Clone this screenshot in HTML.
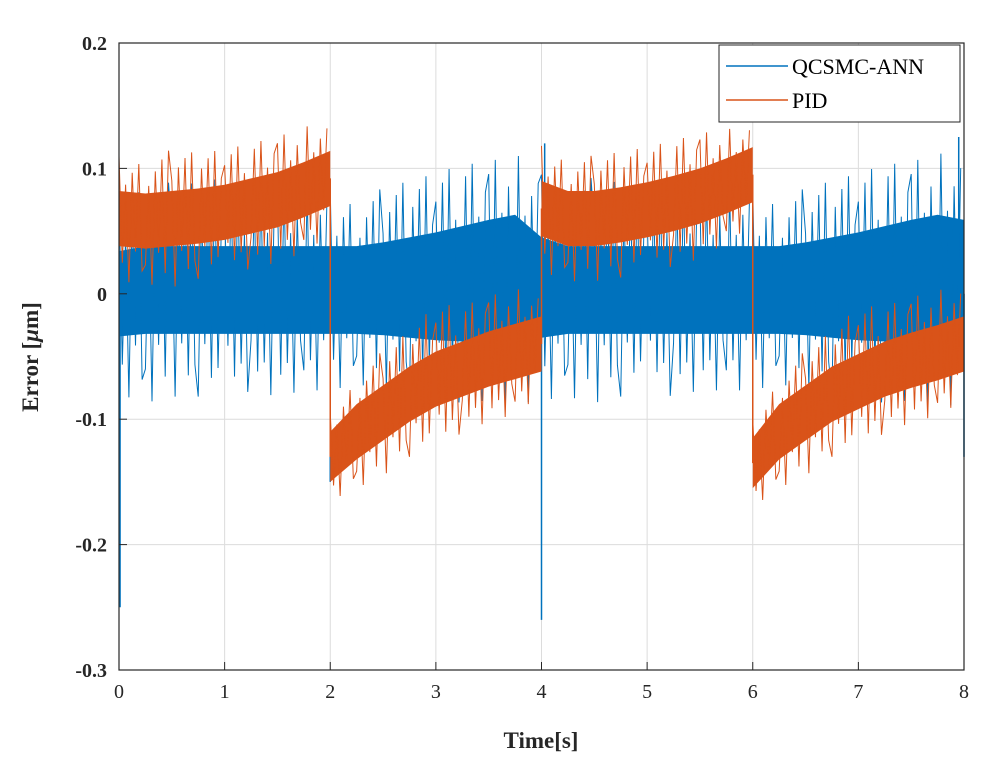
<!DOCTYPE html>
<html><head><meta charset="utf-8"><style>
body{margin:0;background:#fff;}
svg{display:block;font-family:"Liberation Serif",serif;}
</style></head><body>
<svg id="chart" width="1007" height="772">
<rect width="1007" height="772" fill="#fff"/>
<g id="grid"></g>
<g id="series"></g>
<rect x="119" y="43" width="845" height="627" fill="none" stroke="#262626" stroke-width="1.2"/>
<g id="ticks"></g>
<text x="38" y="357" transform="rotate(-90 38 357)" text-anchor="middle" font-size="23" font-weight="bold" fill="#262626">Error [<tspan font-style="italic">μ</tspan>m]</text>
<text x="541" y="748" text-anchor="middle" font-size="23" font-weight="bold" fill="#262626">Time[s]</text>
<g>
<rect x="719" y="45" width="241" height="77" fill="#fff" stroke="#262626" stroke-width="1"/>
<line x1="726" y1="66" x2="788" y2="66" stroke="#0072BD" stroke-width="1.5"/>
<text x="792" y="74" font-size="22" fill="#000">QCSMC-ANN</text>
<line x1="726" y1="100" x2="788" y2="100" stroke="#D95319" stroke-width="1.5"/>
<text x="792" y="108" font-size="22" fill="#000">PID</text>
</g>
</svg>
<script>
const xTicks=[0,1,2,3,4,5,6,7,8];
const yTicks=[-0.3,-0.2,-0.1,0,0.1,0.2];
const yTickLabels=["-0.3","-0.2","-0.1","0","0.1","0.2"];
// Blue series (QCSMC-ANN)
const blueT=[0,0.25,0.5,0.75,1,1.25,1.5,1.75,2,2.25,2.5,2.75,3,3.25,3.5,3.75,4,4.25,4.5,4.75,5,5.25,5.5,5.75,6,6.25,6.5,6.75,7,7.25,7.5,7.75,8];
const blueMid=[0,0.003,0.003,0.003,0.003,0.003,0.003,0.003,0.003,0.003,0.004,0.005,0.006,0.008,0.01,0.012,0.005,0.003,0.003,0.003,0.003,0.003,0.003,0.003,0.003,0.003,0.004,0.005,0.006,0.008,0.01,0.012,0.01];
const blueSpread=[0.034,0.035,0.035,0.035,0.035,0.035,0.035,0.035,0.035,0.035,0.037,0.04,0.043,0.046,0.049,0.051,0.04,0.035,0.035,0.035,0.035,0.035,0.035,0.035,0.035,0.035,0.037,0.04,0.043,0.046,0.049,0.051,0.049];
const bluePeak=[0.08,0.09,0.085,0.085,0.09,0.08,0.085,0.08,0.08,0.075,0.08,0.085,0.09,0.095,0.095,0.1,0.09,0.085,0.09,0.085,0.08,0.085,0.08,0.08,0.08,0.075,0.08,0.085,0.09,0.095,0.095,0.1,0.1];
const blueSpikeT=[0.01,2.0,4.0,4.03,6.0,7.95,8.0];
const blueSpikeV=[-0.25,-0.15,-0.26,0.12,-0.11,0.125,-0.13];
// Orange series (PID)
const pidT=[0,0.25,0.5,0.75,1,1.25,1.5,1.75,2, 2,2.25,2.5,2.75,3,3.25,3.5,3.75,4, 4,4.25,4.5,4.75,5,5.25,5.5,5.75,6, 6,6.25,6.5,6.75,7,7.25,7.5,7.75,8];
const pidMid=[0.06,0.058,0.06,0.062,0.065,0.07,0.075,0.083,0.092, -0.13,-0.11,-0.095,-0.08,-0.068,-0.06,-0.052,-0.046,-0.04, 0.068,0.06,0.06,0.063,0.067,0.072,0.078,0.086,0.095, -0.135,-0.11,-0.095,-0.08,-0.07,-0.06,-0.053,-0.047,-0.04];
const pidSpread=[0.022,0.022,0.022,0.022,0.022,0.022,0.022,0.022,0.022, 0.02,0.022,0.022,0.022,0.022,0.022,0.022,0.022,0.022, 0.022,0.022,0.022,0.022,0.022,0.022,0.022,0.022,0.022, 0.02,0.022,0.022,0.022,0.022,0.022,0.022,0.022,0.022];
const pidPeak=[0.05,0.05,0.055,0.05,0.05,0.05,0.05,0.05,0.045, 0.035,0.045,0.05,0.05,0.06,0.05,0.05,0.05,0.04, 0.05,0.05,0.05,0.05,0.05,0.05,0.05,0.045,0.04, 0.035,0.045,0.05,0.05,0.06,0.05,0.05,0.05,0.045];

const NS="http://www.w3.org/2000/svg";
const X0=119,X1=964,Y0=670,Y1=43;
const zigPattern=[1,-0.7,0.55,-1,0.75,-0.5,0.9,-0.8];
function xs(t){return X0+(t-0)/(8-0)*(X1-X0);}
function ys(v){return Y0-(v+0.3)/(0.5)*(Y0-Y1);}
function mk(tag,attrs,parent){const e=document.createElementNS(NS,tag);for(const k in attrs)e.setAttribute(k,attrs[k]);parent.appendChild(e);return e;}
const grid=document.getElementById('grid'),ticks=document.getElementById('ticks'),ser=document.getElementById('series');
xTicks.forEach(t=>{
  const l=mk('line',{x1:xs(t),x2:xs(t),y1:Y1,y2:Y0,stroke:'#dcdcdc','stroke-width':1},grid);
  
  
  const tk=mk('line',{x1:xs(t),x2:xs(t),y1:Y0,y2:Y0-8,stroke:'#262626','stroke-width':1},ticks);
  
  
  const tx=mk('text',{x:xs(t),y:Y0+28,'text-anchor':'middle','font-size':20,fill:'#262626'},ticks);
  tx.textContent=String(t);
  
  
});
yTicks.forEach((v,i)=>{
  const l=mk('line',{x1:X0,x2:X1,y1:ys(v),y2:ys(v),stroke:'#dcdcdc','stroke-width':1},grid);
  
  
  const tk=mk('line',{x1:X0,x2:X0+8,y1:ys(v),y2:ys(v),stroke:'#262626','stroke-width':1},ticks);
  
  
  const tx=mk('text',{x:X0-12,y:ys(v)+7,'text-anchor':'end','font-size':20,'font-weight':'bold',fill:'#262626'},ticks);
  tx.textContent=yTickLabels[i];
  
  
});
function drawSeries(T,M,S,P,color,name){
  const g=mk('g',{},ser);
  
  
  let segs=[],cur=[];
  T.forEach((t,i)=>{if(i>0&&t===T[i-1]){segs.push(cur);cur=[];}cur.push(i);});
  segs.push(cur);
  segs.forEach(seg=>{
    const up=seg.map(i=>xs(T[i])+','+ys(M[i]+S[i]));
    const lo=seg.slice().reverse().map(i=>xs(T[i])+','+ys(M[i]-S[i]));
    const p=mk('polygon',{points:up.concat(lo).join(' '),fill:color},g);
    
    
    const z=[];
    seg.forEach((i,k)=>{
      if(k<seg.length-1){
        const i2=seg[k+1];
        const n=zigPattern.length;
        for(let j=0;j<n;j++){
          const f=j/n;
          const x=xs(T[i])+(xs(T[i2])-xs(T[i]))*f;
          const m=M[i]+(M[i2]-M[i])*f;
          const pk=P[i]+(P[i2]-P[i])*f;
          z.push(x+','+ys(m+pk*zigPattern[(j+k)%n]));
        }
      }
    });
    const pl=mk('polyline',{points:z.join(' '),fill:'none',stroke:color,'stroke-width':1},g);
    
    
  });
  for(let i=1;i<T.length;i++){
    if(T[i]===T[i-1]){
      const l=mk('line',{x1:xs(T[i]),x2:xs(T[i]),y1:ys(M[i-1]),y2:ys(M[i]),stroke:color,'stroke-width':1.5},g);
      
      
    }
  }
  return g;
}
const bg=drawSeries(blueT,blueMid,blueSpread,bluePeak,'#0072BD','qcsmc-ann-series');
blueSpikeT.forEach((t,i)=>{
  const l=mk('line',{x1:xs(t),x2:xs(t),y1:ys(0),y2:ys(blueSpikeV[i]),stroke:'#0072BD','stroke-width':1.5},bg);
  
  
});
drawSeries(pidT,pidMid,pidSpread,pidPeak,'#D95319','pid-series');
</script>
</body></html>
